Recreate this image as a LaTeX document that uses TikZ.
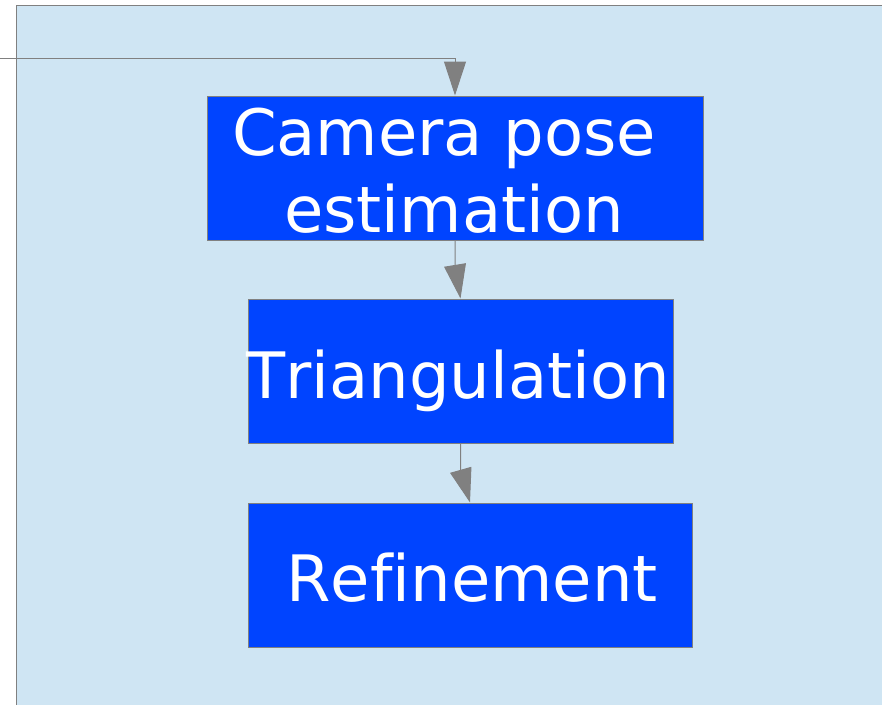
\documentclass[tikz,border=0pt]{standalone}
\usepackage{fontspec}
\setmainfont[Ligatures=NoCommon,Kerning=Off]{DejaVu Sans}
\usetikzlibrary{arrows.meta}
\definecolor{bgblue}{HTML}{CFE5F3}
\definecolor{boxblue}{HTML}{0044FF}
\definecolor{linegray}{HTML}{808080}
\tikzset{
  stagebox/.style={draw=linegray, line width=1pt, fill=boxblue, rectangle, inner sep=0pt},
  lbl/.style={text=white, font=\fontsize{64}{77}\selectfont, inner sep=0pt, anchor=base},
  conn/.style={draw=linegray, line width=1pt, -{Triangle[length=34pt,width=22pt,fill=linegray]}}
}
\begin{document}
\begin{tikzpicture}[x=1pt,y=-1pt]
\useasboundingbox (0,0) rectangle (882,705);
\fill[bgblue] (16.5,5) rectangle (882,705);
\draw[linegray, line width=1pt] (882,5) -- (16.5,5) -- (16.5,705);

\node[stagebox, minimum width=496pt, minimum height=144pt] (cam) at (455,168) {};
\node[stagebox, minimum width=425pt, minimum height=144pt] (tri) at (460.5,371) {};
\node[stagebox, minimum width=444pt, minimum height=144pt] (ref) at (470,575) {};

\node[lbl] (camt1) at (444,155) {Camera pose};
\node[lbl] (camt2) at (454,232) {estimation};
\node[lbl] (trit) at (458,398) {Triangulation};
\node[lbl] (reft) at (472,601) {Refinement};

\coordinate (start) at (0,58);
\coordinate (corner) at (455,58);
\coordinate (k1) at (455,265);
\coordinate (k2) at (460.5,469);

\draw[conn] (start) -- (corner) -- (cam.north);
\draw[conn] (cam.south) -- (k1) -- (tri.north);
\draw[conn] (tri.south) -- (k2) -- (ref.north);
\end{tikzpicture}
\end{document}
